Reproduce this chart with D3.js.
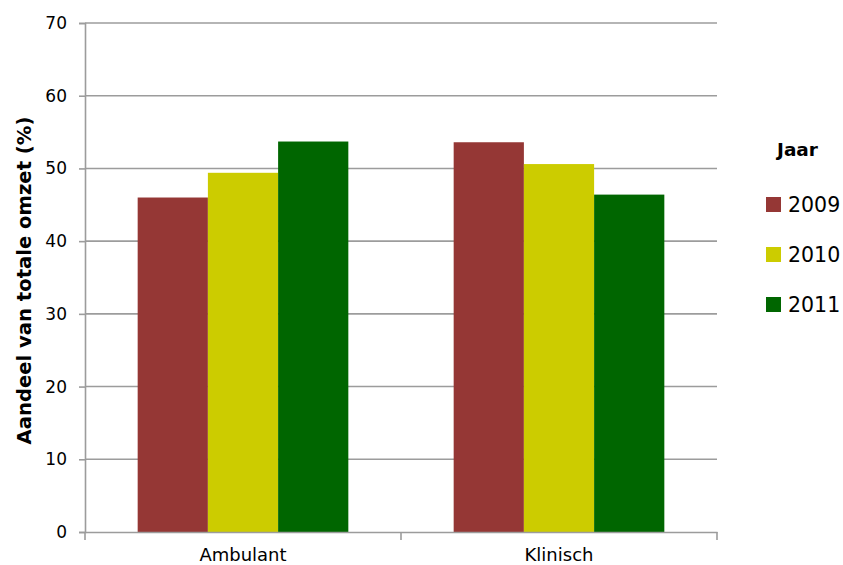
<!DOCTYPE html>
<html>
<head>
<meta charset="utf-8">
<script src="https://cdn.jsdelivr.net/npm/d3@7"></script>
<style>
  html, body { margin: 0; padding: 0; background: #fff; }
  svg { display: block; font-family: "DejaVu Sans", Verdana, sans-serif; }
</style>
</head>
<body>
<svg id="chart" width="843" height="565"></svg>
<script>
const categories = ["Ambulant", "Klinisch"];
const years = ["2009", "2010", "2011"];
const values2009 = [46.0, 53.6];
const values2010 = [49.4, 50.6];
const values2011 = [53.7, 46.4];
const yTicks = [0, 10, 20, 30, 40, 50, 60, 70];
const colors = ["#953735", "#cccc00", "#006600"];
const yTitle = "Aandeel van totale omzet (%)";
const legendTitle = "Jaar";

(function () {
const seriesValues = [values2009, values2010, values2011];
const data = categories.map((c, i) => ({
  cat: c,
  vals: years.map((yr, j) => ({ year: yr, value: seriesValues[j][i], color: colors[j] }))
}));

const svg = d3.select("#chart");
const mLeft = 85, mRight = 717, mTop = 23, mBottom = 532;

const x0 = d3.scaleBand().domain(categories).range([mLeft, mRight]).padding(0);
const x1 = d3.scaleBand().domain(years).range([0, x0.bandwidth()]).paddingInner(0).paddingOuter(0.75);
const y = d3.scaleLinear().domain([0, 70]).range([mBottom, mTop]);

const gridColor = "#9c9c9c";

// gridlines
svg.append("g").selectAll("line").data(yTicks.filter(t => t > 0)).join("line")
  .attr("x1", mLeft).attr("x2", mRight)
  .attr("y1", d => y(d)).attr("y2", d => y(d))
  .attr("stroke", gridColor).attr("stroke-width", 1.6);

// bars
const groups = svg.append("g").selectAll("g").data(data).join("g")
  .attr("transform", d => `translate(${x0(d.cat)},0)`);
groups.selectAll("rect").data(d => d.vals).join("rect")
  .attr("x", d => x1(d.year))
  .attr("width", x1.bandwidth())
  .attr("y", d => y(d.value))
  .attr("height", d => y(0) - y(d.value))
  .attr("fill", d => d.color);

// y axis
const yAxis = d3.axisLeft(y).tickValues(yTicks).tickSize(6).tickPadding(12);
const gy = svg.append("g").attr("transform", `translate(${mLeft},0)`).call(yAxis);
gy.attr("font-size", 17).attr("font-family", "DejaVu Sans, Verdana, sans-serif");
gy.select(".domain").attr("stroke", gridColor).attr("stroke-width", 1.6);
gy.selectAll(".tick line").attr("stroke", gridColor).attr("stroke-width", 1.6);
gy.selectAll(".tick text").attr("fill", "#000");

// x axis
const xAxis = d3.axisBottom(x0).tickSize(0).tickPadding(16);
const gx = svg.append("g").attr("transform", `translate(0,${mBottom})`).call(xAxis);
gx.attr("font-size", 18).attr("font-family", "DejaVu Sans, Verdana, sans-serif");
gx.select(".domain").attr("stroke", gridColor).attr("stroke-width", 1.6);
gx.selectAll(".tick text").attr("fill", "#000");
// category boundary ticks
const boundaries = [mLeft].concat(categories.map(c => x0(c) + x0.bandwidth()));
gx.selectAll(".bt").data(boundaries).join("line").attr("class", "bt")
  .attr("x1", d => d).attr("x2", d => d).attr("y1", 0).attr("y2", 8)
  .attr("stroke", gridColor).attr("stroke-width", 1.6);

// y title
svg.append("text")
  .attr("transform", `translate(31,${(mTop + mBottom) / 2 + 3}) rotate(-90)`)
  .attr("text-anchor", "middle")
  .attr("font-size", 19.6).attr("font-weight", "bold")
  .text(yTitle);

// legend
svg.append("text").attr("x", 777).attr("y", 156)
  .attr("font-size", 18.5).attr("font-weight", "bold").text(legendTitle);
const lg = svg.append("g").selectAll("g").data(years).join("g")
  .attr("transform", (d, i) => `translate(766,${197 + i * 50})`);
lg.append("rect").attr("width", 15).attr("height", 15).attr("fill", (d, i) => colors[i]);
lg.append("text").attr("x", 22).attr("y", 15).attr("font-size", 20.5).text(d => d);
})();
</script>
</body>
</html>
